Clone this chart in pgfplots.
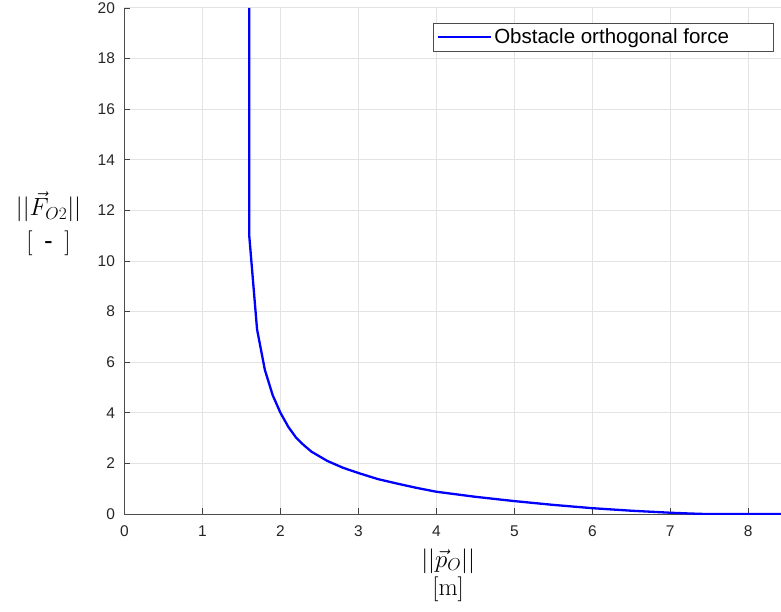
\documentclass[border=0pt]{standalone}
\usepackage{pgfplots}
\pgfplotsset{compat=1.18}
\usepackage[no-math]{fontspec}
\setmainfont{Liberation Sans}
\usetikzlibrary{calc}
\begin{document}
\begin{tikzpicture}
\begin{axis}[
  scale only axis, width=656.5pt, height=506pt,
  xmin=0, xmax=8.42, ymin=0, ymax=20,
  axis lines=left, axis line style={-, black!70, line width=1pt},
  xtick={0,1,...,8}, ytick={0,2,...,20},
  tick align=inside, major tick length=6pt,
  tick style={black!75, line width=0.9pt},
  grid=major, grid style={black!11, line width=1pt},
  /pgf/number format/assume math mode=true,
  tick label style={font=\fontsize{15.5}{18}\selectfont, black!85},
  yticklabel style={xshift=-6pt},
  xticklabel style={yshift=-8.5pt},
  every axis x label/.style={at={(rel axis cs:0.493,0)}, anchor=center, yshift=-61pt, align=center, font=\fontsize{25}{28}\selectfont},
  every axis y label/.style={at={(rel axis cs:0,0.573)}, anchor=center, xshift=-76pt, align=center, font=\fontsize{26}{34}\selectfont},
  xlabel={$||\vec{p}_O||$\\$[\mathrm{m}]$},
  ylabel={$||\vec{F}_{O2}||$\\$[$\ \,-\ \,$]$},
  legend style={at={(0.47,0.970)}, anchor=north west, draw=black!70, line width=0.8pt, fill=white,
    font=\fontsize{20.5}{24}\selectfont, inner xsep=3.5pt, inner ysep=3.5pt},
  legend image code/.code={\draw[#1, line width=2.3pt] (0pt,0pt) -- (53pt,0pt);},
]
\addplot[blue, line width=2.3pt] coordinates {
(1.6,20) (1.6,11.0) (1.7,7.3) (1.8,5.7) (1.9,4.7) (2.0,4.0) (2.1,3.45) (2.2,3.02)
(2.3,2.72) (2.4,2.46) (2.5,2.28) (2.6,2.10) (2.8,1.83) (3.0,1.62) (3.25,1.38)
(3.5,1.2) (3.75,1.03) (4.0,0.88) (4.5,0.68) (5.0,0.51) (5.5,0.36) (6.0,0.23)
(6.5,0.13) (7.0,0.05) (7.25,0.02) (7.45,0) (8.42,0)};
\addlegendentry{Obstacle orthogonal force\hspace*{39pt}}
\coordinate (sw) at (rel axis cs:0,0);
\coordinate (ne) at (rel axis cs:1,1);
\end{axis}
\pgfresetboundingbox
\useasboundingbox ($(sw)+(-124.5pt,-97pt)$) rectangle ($(ne)+(0pt,8pt)$);
\end{tikzpicture}
\end{document}
